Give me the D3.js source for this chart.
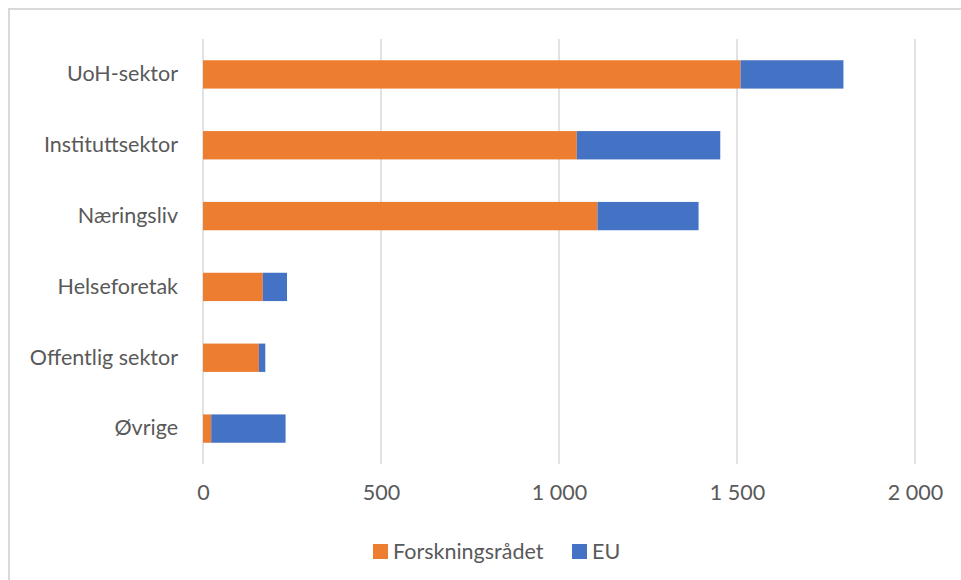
<!DOCTYPE html>
<html>
<head>
<meta charset="utf-8">
<script src="https://cdn.jsdelivr.net/npm/d3@7"></script>
<style>
  html, body { margin: 0; padding: 0; background: #ffffff; }
  svg { display: block; }
  text { font-family: Lato, "Noto Sans", sans-serif; fill: #595959; }
</style>
</head>
<body>
<svg id="chart" width="961" height="580"></svg>
<script>
// Sectors (top to bottom) and funding per source
const categories = ["UoH-sektor", "Instituttsektor", "Næringsliv", "Helseforetak", "Offentlig sektor", "Øvrige"];
const forskningsradet = [1510, 1050, 1108, 168, 157, 23];
const eu = [289, 403, 284, 68, 18, 209];
const seriesNames = ["Forskningsrådet", "EU"];
const seriesColors = ["#ED7D31", "#4472C4"];
const tickValues = [0, 500, 1000, 1500, 2000];

const svg = d3.select("#chart");
const W = 961, H = 580;
const FONT = 21.5;

// Outer chart frame
svg.append("rect")
  .attr("x", 9).attr("y", 9)
  .attr("width", W + 20).attr("height", H + 20)
  .attr("fill", "none")
  .attr("stroke", "#d9d9d9")
  .attr("stroke-width", 2);

const plot = { left: 203, right: 915, top: 39, bottom: 464 };

const x = d3.scaleLinear().domain([0, 2000]).range([plot.left, plot.right]);
const y = d3.scaleBand().domain(categories).range([plot.top, plot.bottom])
  .paddingInner(0.6).paddingOuter(0.3);

// Vertical gridlines
svg.append("g")
  .selectAll("line")
  .data(tickValues)
  .join("line")
  .attr("x1", d => x(d)).attr("x2", d => x(d))
  .attr("y1", plot.top).attr("y2", plot.bottom)
  .attr("stroke", "#d9d9d9")
  .attr("stroke-width", 1.5);

// Stacked bars
const rows = categories.map((c, i) => ({ category: c, "Forskningsrådet": forskningsradet[i], "EU": eu[i] }));
const stacked = d3.stack().keys(seriesNames)(rows);

svg.append("g")
  .selectAll("g")
  .data(stacked)
  .join("g")
  .attr("fill", (d, i) => seriesColors[i])
  .selectAll("rect")
  .data(d => d)
  .join("rect")
  .attr("x", d => x(d[0]))
  .attr("y", d => y(d.data.category))
  .attr("width", d => x(d[1]) - x(d[0]))
  .attr("height", y.bandwidth());

// Numbers with a space as thousands separator
const fmt = v => d3.format(",")(v).replace(/,/g, " ");

// Category axis labels
const yAxis = d3.axisLeft(y).tickSize(0).tickPadding(25);
const gy = svg.append("g").attr("transform", `translate(${plot.left},0)`).call(yAxis);
gy.select(".domain").remove();
gy.selectAll("text").attr("font-size", FONT).style("font-family", "Lato, 'Noto Sans', sans-serif").attr("fill", "#595959");

// Value axis labels
const xAxis = d3.axisBottom(x).tickValues(tickValues).tickSize(0).tickPadding(21).tickFormat(fmt);
const gx = svg.append("g").attr("transform", `translate(0,${plot.bottom})`).call(xAxis);
gx.select(".domain").remove();
gx.selectAll("text").attr("font-size", FONT).style("font-family", "Lato, 'Noto Sans', sans-serif").attr("fill", "#595959");

// Legend
const legendItems = [
  { name: seriesNames[0], color: seriesColors[0], x: 373 },
  { name: seriesNames[1], color: seriesColors[1], x: 572 }
];
const lg = svg.append("g");
legendItems.forEach(item => {
  lg.append("rect")
    .attr("x", item.x).attr("y", 544)
    .attr("width", 15).attr("height", 15)
    .attr("fill", item.color);
  lg.append("text")
    .attr("x", item.x + 20).attr("y", 551)
    .attr("dy", "0.35em")
    .attr("font-size", FONT)
    .text(item.name);
});
</script>
</body>
</html>
